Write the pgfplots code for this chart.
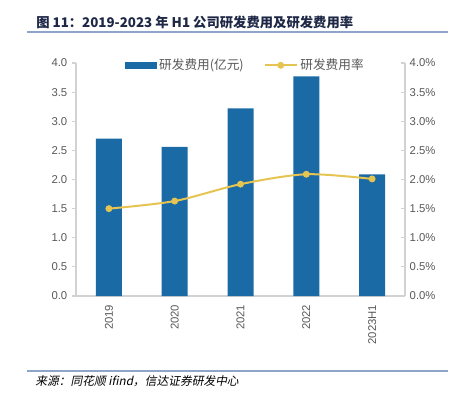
\documentclass[border=0pt]{standalone}
\usepackage{pgfplots}
\pgfplotsset{compat=1.18}
\usepackage{fontspec}
\setmainfont{Liberation Sans}
\newfontfamily\cjk{Noto Sans CJK SC}
\definecolor{barblue}{RGB}{26,106,166}
\definecolor{gold}{RGB}{230,196,82}
\definecolor{txtgray}{RGB}{89,89,89}
\definecolor{axgray}{RGB}{210,210,210}
\definecolor{titlec}{RGB}{30,40,70}
\definecolor{rulec}{RGB}{140,165,200}
\begin{document}
\begin{tikzpicture}
\begin{scope}[x=0.75pt,y=-0.75pt,shift={(0,294.75pt)}]
\path (0,0) rectangle (452,393);
\node[anchor=west,text=titlec,font=\cjk\bfseries\fontsize{10}{12}\selectfont,inner sep=0] at (36,22) {图 11：2019-2023 年 H1 公司研发费用及研发费用率};
\draw[rulec,line width=1.2pt] (27,32) -- (448,32);
\draw[rulec,line width=0.8pt] (27,371) -- (448,371);
\node[anchor=west,text=black,font=\cjk\fontsize{8.8}{10}\selectfont,inner sep=0,xslant=0.2] at (36,381) {来源：同花顺 ifind，信达证券研发中心};
\end{scope}

\begin{axis}[
  at={(57pt,72.75pt)}, anchor=south west,
  scale only axis, width=246.75pt, height=174.75pt,
  xmin=-0.5, xmax=4.5, ymin=0, ymax=4,
  axis y line*=left, axis x line*=bottom,
  axis line style={axgray, line width=0.8pt},
  ytick={0,0.5,...,4.0},
  /pgf/number format/fixed, /pgf/number format/fixed zerofill, /pgf/number format/precision=1,
  /pgf/number format/assume math mode=true,
  yticklabel style={font=\fontsize{8.5}{10}\selectfont, text=txtgray},
  xtick={0,1,2,3,4},
  xticklabels={2019,2020,2021,2022,2023H1},
  xticklabel style={rotate=90, anchor=east, font=\fontsize{8.5}{10}\selectfont, text=txtgray},
  x tick style={draw=none},
  y tick style={axgray, line width=0.8pt},
  tick align=outside, major tick length=3pt,
  ybar, bar width=19.5pt,
]
\addplot[fill=barblue, draw=none] coordinates {(0,2.70) (1,2.56) (2,3.22) (3,3.77) (4,2.09)};
\end{axis}

\begin{axis}[
  at={(57pt,72.75pt)}, anchor=south west,
  scale only axis, width=246.75pt, height=174.75pt,
  xmin=-0.5, xmax=4.5, ymin=0, ymax=4,
  axis y line*=right, axis x line=none,
  axis line style={axgray, line width=0.8pt},
  ytick={0,0.5,...,4.0},
  /pgf/number format/fixed, /pgf/number format/fixed zerofill, /pgf/number format/precision=1,
  /pgf/number format/assume math mode=true,
  yticklabel={\pgfmathprintnumber{\tick}\%},
  yticklabel style={font=\fontsize{8.5}{10}\selectfont, text=txtgray},
  y tick style={axgray, line width=0.8pt},
  tick align=inside, major tick length=3pt,
  legend style={at={(0.145,0.99)}, anchor=west, draw=none, fill=white, legend columns=2,
    font=\cjk\fontsize{9.5}{11}\selectfont, text=txtgray,
    /tikz/every even column/.append style={column sep=13pt}, inner sep=1pt},
]
\addlegendimage{legend image code/.code={\fill[barblue] (0pt,-2.2pt) rectangle (23pt,2.2pt);}}
\addlegendentry{研发费用(亿元)}
\addplot[gold, line width=1.5pt, smooth, tension=0.5, mark=*, mark size=1.8pt, mark options={fill=gold,draw=gold},
  legend image code/.code={\draw[gold,line width=1.5pt] (0pt,0pt) -- (24pt,0pt); \fill[gold] (12pt,0pt) circle (1.8pt);}] coordinates {(0,1.50) (1,1.63) (2,1.92) (3,2.09) (4,2.01)};
\addlegendentry{研发费用率}
\end{axis}
\end{tikzpicture}
\end{document}
